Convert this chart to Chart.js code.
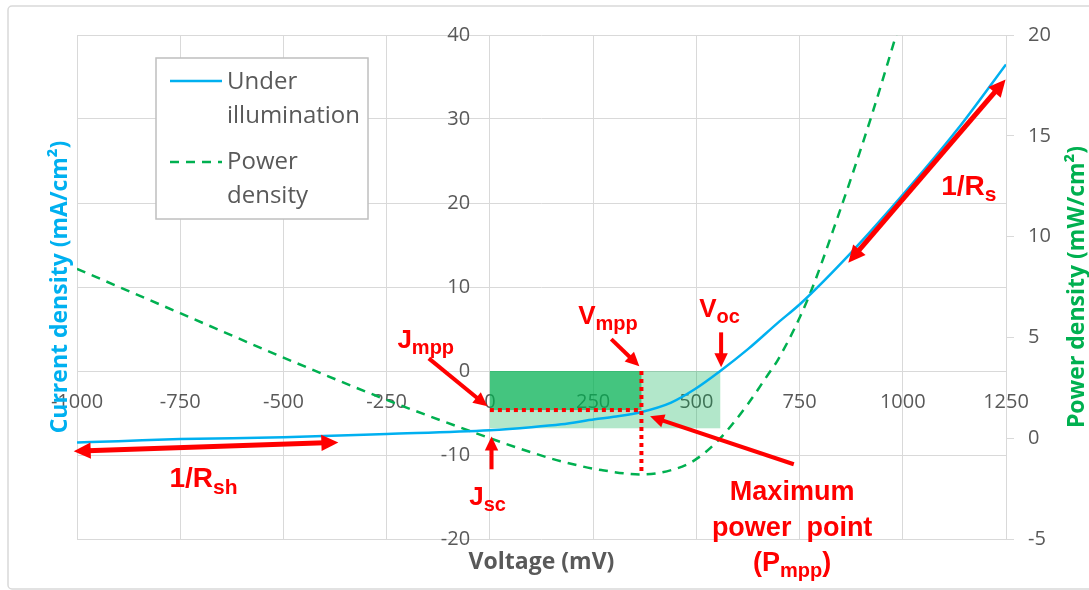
<!DOCTYPE html>
<html>
<head>
<meta charset="utf-8">
<script src="https://cdn.jsdelivr.net/npm/chart.js@4/dist/chart.umd.min.js"></script>
<style>
  html, body { margin: 0; padding: 0; background: #fff; }
</style>
</head>
<body>
<canvas id="myChart" width="1089" height="590"></canvas>
<script>
// J-V curve under illumination (mV, mA/cm²)
let voltageJ = [-1000, -900, -750, -500, -250, 0, 100, 173, 254, 300, 367, 439, 496, 558, 625, 698, 754, 875, 1004, 1133, 1250];
let currentJ = [-8.5, -8.35, -8.1, -7.9, -7.5, -7.05, -6.7, -6.35, -5.75, -5.45, -4.88, -3.76, -2.18, 0, 2.6, 5.76, 8.1, 14.1, 21.2, 28.8, 36.5];

// power density (mV, mW/cm²)
let voltageP = [-1000, -750, -500, -250, 0, 100, 173, 270, 367, 440, 496, 558, 625, 675, 698, 770, 843, 923, 984];
let powerP = [8.4, 6.2, 4.0, 1.9, 0, -0.7, -1.15, -1.58, -1.8, -1.58, -1.09, 0, 1.7, 3.2, 3.9, 6.9, 11.0, 15.9, 20];

// characteristic points
let VMPP = 367, JMPP = -4.65, PMPP = -1.8;
let VOC = 558, JSC = -6.82;

let seriesNames = ['Under illumination', 'Power density'];

const BLUE = '#00B0F0';
const GREEN = '#00B050';
const RED = '#FF0000';
const GREY = '#595959';
const GRID = '#D9D9D9';
const RED_FONT = '"Liberation Sans", Arial, sans-serif';

// annotation arrows, in data units (voltage, current density)
let arrows = [
  { from: [-148, 1.5], to: [-6, -4.2], w: 4, head: 14 },
  { from: [4, -11.7], to: [4, -7.8], w: 4, head: 14 },
  { from: [-1008, -9.55], to: [-367, -8.5], w: 5, head: 17, both: true },
  { from: [868, 12.9], to: [1249, 34.7], w: 5, head: 17, both: true },
  { from: [294, 3.8], to: [362, 0.56], w: 4, head: 14 },
  { from: [560, 4.6], to: [560, 0.44], w: 4, head: 14 },
  { from: [736, -11.1], to: [388, -5.4], w: 4, head: 14 }
];

// annotation texts: main + subscript, anchored in data units
let notes = [
  { at: [-224, 2.7], main: 'J', sub: 'mpp', size: 26, subSize: 20 },
  { at: [-50, -15.9], main: 'J', sub: 'sc', size: 26, subSize: 20 },
  { at: [-776, -13.85], main: '1/R', sub: 'sh', size: 28, subSize: 21 },
  { at: [1093, 21.0], main: '1/R', sub: 's', size: 28, subSize: 21 },
  { at: [214, 5.56], main: 'V', sub: 'mpp', size: 26, subSize: 20 },
  { at: [507, 6.4], main: 'V', sub: 'oc', size: 26, subSize: 20 },
  { at: [732, -15.3], main: 'Maximum', size: 27, center: true },
  { at: [732, -19.7], main: 'power  point', size: 27, center: true },
  { at: [732, -23.8], main: '(P', sub: 'mpp', tail: ')', size: 27, subSize: 20, center: true }
];

function drawArrow(ctx, x1, y1, x2, y2, w, head, both) {
  const a = Math.atan2(y2 - y1, x2 - x1);
  const L = Math.hypot(x2 - x1, y2 - y1);
  ctx.save();
  ctx.translate(x1, y1);
  ctx.rotate(a);
  ctx.strokeStyle = RED;
  ctx.fillStyle = RED;
  ctx.lineWidth = w;
  ctx.setLineDash([]);
  ctx.beginPath();
  ctx.moveTo(both ? head * 0.8 : 0, 0);
  ctx.lineTo(L - head * 0.8, 0);
  ctx.stroke();
  ctx.beginPath();
  ctx.moveTo(L, 0);
  ctx.lineTo(L - head, -head * 0.48);
  ctx.lineTo(L - head, head * 0.48);
  ctx.closePath();
  ctx.fill();
  if (both) {
    ctx.beginPath();
    ctx.moveTo(0, 0);
    ctx.lineTo(head, -head * 0.48);
    ctx.lineTo(head, head * 0.48);
    ctx.closePath();
    ctx.fill();
  }
  ctx.restore();
}

function drawNote(ctx, n, x, y) {
  const f1 = 'bold ' + n.size + 'px ' + RED_FONT;
  const f2 = 'bold ' + (n.subSize || n.size) + 'px ' + RED_FONT;
  ctx.font = f1;
  const w1 = ctx.measureText(n.main).width;
  const w3 = n.tail ? ctx.measureText(n.tail).width : 0;
  ctx.font = f2;
  const w2 = n.sub ? ctx.measureText(n.sub).width : 0;
  let x0 = n.center ? x - (w1 + w2 + w3) / 2 : x;
  ctx.fillStyle = RED;
  ctx.textAlign = 'left';
  ctx.textBaseline = 'alphabetic';
  ctx.font = f1;
  ctx.fillText(n.main, x0, y);
  if (n.sub) {
    ctx.font = f2;
    ctx.fillText(n.sub, x0 + w1, y + n.subSize * 0.3);
  }
  if (n.tail) {
    ctx.font = f1;
    ctx.fillText(n.tail, x0 + w1 + w2, y);
  }
}

const annotate = {
  id: 'annotate',
  beforeDraw(chart) {
    const ctx = chart.ctx;
    ctx.save();
    ctx.fillStyle = '#fff';
    ctx.fillRect(0, 0, chart.width, chart.height);
    ctx.strokeStyle = GRID;
    ctx.lineWidth = 1.5;
    ctx.beginPath();
    ctx.roundRect(8, 6, chart.width, chart.height - 7, 4);
    ctx.stroke();
    ctx.restore();
  },
  beforeDatasetsDraw(chart) {
    const ctx = chart.ctx, x = chart.scales.x, y = chart.scales.y;
    ctx.save();
    ctx.fillStyle = 'rgba(0,176,80,0.3)';
    ctx.fillRect(x.getPixelForValue(0), y.getPixelForValue(0),
      x.getPixelForValue(VOC) - x.getPixelForValue(0), y.getPixelForValue(JSC) - y.getPixelForValue(0));
    ctx.fillStyle = 'rgba(0,176,80,0.62)';
    ctx.fillRect(x.getPixelForValue(0), y.getPixelForValue(0),
      x.getPixelForValue(VMPP) - x.getPixelForValue(0), y.getPixelForValue(JMPP) - y.getPixelForValue(0));
    ctx.restore();
  },
  afterDatasetsDraw(chart) {
    const ctx = chart.ctx, x = chart.scales.x, y = chart.scales.y, y2 = chart.scales.y2;
    const area = chart.chartArea;
    ctx.save();

    // dotted lines to the maximum power point
    ctx.strokeStyle = RED;
    ctx.lineWidth = 4;
    ctx.setLineDash([4, 4]);
    ctx.beginPath();
    ctx.moveTo(x.getPixelForValue(0), y.getPixelForValue(JMPP));
    ctx.lineTo(x.getPixelForValue(VMPP), y.getPixelForValue(JMPP));
    ctx.stroke();
    ctx.beginPath();
    ctx.moveTo(x.getPixelForValue(VMPP), y.getPixelForValue(0));
    ctx.lineTo(x.getPixelForValue(VMPP), y2.getPixelForValue(PMPP));
    ctx.stroke();
    ctx.setLineDash([]);

    arrows.forEach(a => drawArrow(ctx,
      x.getPixelForValue(a.from[0]), y.getPixelForValue(a.from[1]),
      x.getPixelForValue(a.to[0]), y.getPixelForValue(a.to[1]), a.w, a.head, a.both));
    notes.forEach(n => drawNote(ctx, n, x.getPixelForValue(n.at[0]), y.getPixelForValue(n.at[1])));

    // axis titles
    const midY = (area.top + area.bottom) / 2;
    ctx.textAlign = 'center';
    ctx.textBaseline = 'middle';
    ctx.font = 'bold 23px "Open Sans"';
    ctx.fillStyle = BLUE;
    ctx.save();
    ctx.translate(area.left - 17, midY);
    ctx.rotate(-Math.PI / 2);
    ctx.fillText('Current density (mA/cm²)', 0, 0);
    ctx.restore();
    ctx.fillStyle = GREEN;
    ctx.save();
    ctx.translate(area.right + 71, midY);
    ctx.rotate(-Math.PI / 2);
    ctx.fillText('Power density (mW/cm²)', 0, 0);
    ctx.restore();
    ctx.fillStyle = GREY;
    ctx.font = 'bold 23px "Open Sans"';
    ctx.fillText('Voltage (mV)', (area.left + area.right) / 2, area.bottom + 23);

    // legend box
    const lx = area.left + 79, ly = area.top + 23;
    ctx.fillStyle = '#fff';
    ctx.fillRect(lx, ly, 212, 161);
    ctx.strokeStyle = '#BFBFBF';
    ctx.lineWidth = 1.5;
    ctx.strokeRect(lx, ly, 212, 161);
    const ds = chart.data.datasets;
    ctx.lineWidth = 2.5;
    ctx.strokeStyle = ds[0].borderColor;
    ctx.beginPath();
    ctx.moveTo(lx + 14, ly + 23);
    ctx.lineTo(lx + 66, ly + 23);
    ctx.stroke();
    ctx.strokeStyle = ds[1].borderColor;
    ctx.setLineDash(ds[1].borderDash);
    ctx.beginPath();
    ctx.moveTo(lx + 14, ly + 104);
    ctx.lineTo(lx + 66, ly + 104);
    ctx.stroke();
    ctx.setLineDash([]);
    ctx.fillStyle = GREY;
    ctx.font = '24px "Open Sans"';
    ctx.textAlign = 'left';
    ctx.fillText('Under', lx + 71, ly + 24);
    ctx.fillText('illumination', lx + 71, ly + 58);
    ctx.fillText('Power', lx + 71, ly + 104);
    ctx.fillText('density', lx + 71, ly + 138);

    ctx.restore();
  }
};

let ctx = document.getElementById('myChart').getContext('2d');

let myChart = new Chart(ctx,
{
    type: 'line',
    data:
    {
        datasets:
        [{
            label: seriesNames[0],
            data: voltageJ.map((v, i) => ({ x: v, y: currentJ[i] })),
            borderColor: BLUE,
            borderWidth: 2.5,
            pointRadius: 0,
            cubicInterpolationMode: 'monotone',
            yAxisID: 'y'
        },
        {
            label: seriesNames[1],
            data: voltageP.map((v, i) => ({ x: v, y: powerP[i] })),
            borderColor: GREEN,
            borderWidth: 2.5,
            borderDash: [9, 7],
            pointRadius: 0,
            cubicInterpolationMode: 'monotone',
            yAxisID: 'y2'
        }]
    },
    options:
    {
        responsive: false,
        animation: false,
        devicePixelRatio: 1,
        layout: { padding: { left: 77, top: 35, bottom: 51, right: 0 } },
        plugins:
        {
            legend: { display: false },
            tooltip: { enabled: false }
        },
        scales:
        {
            x:
            {
                type: 'linear',
                position: { y: 0 },
                min: -1000,
                max: 1250,
                grid: { color: GRID, drawTicks: false },
                border: { color: GRID },
                ticks:
                {
                    stepSize: 250,
                    padding: 19,
                    color: GREY,
                    font: { family: 'Open Sans', size: 20 },
                    maxRotation: 0,
                    callback: v => String(v)
                }
            },
            y:
            {
                // labels sit a little left of the V = 0 line
                position: { x: -48 },
                min: -20,
                max: 40,
                grid: { color: GRID, drawTicks: false },
                border: { display: false },
                ticks:
                {
                    stepSize: 10,
                    color: GREY,
                    font: { family: 'Open Sans', size: 20 },
                    callback: v => String(v)
                }
            },
            y2:
            {
                position: 'right',
                min: -5,
                max: 20,
                grid: { drawOnChartArea: false, color: GRID, tickLength: 8 },
                border: { color: GRID },
                ticks:
                {
                    stepSize: 5,
                    padding: 14,
                    color: GREY,
                    font: { family: 'Open Sans', size: 20 },
                    callback: v => String(v)
                },
                afterFit: scale => { scale.width = 83; }
            }
        }
    },
    plugins: [annotate]
});
</script>
</body>
</html>
